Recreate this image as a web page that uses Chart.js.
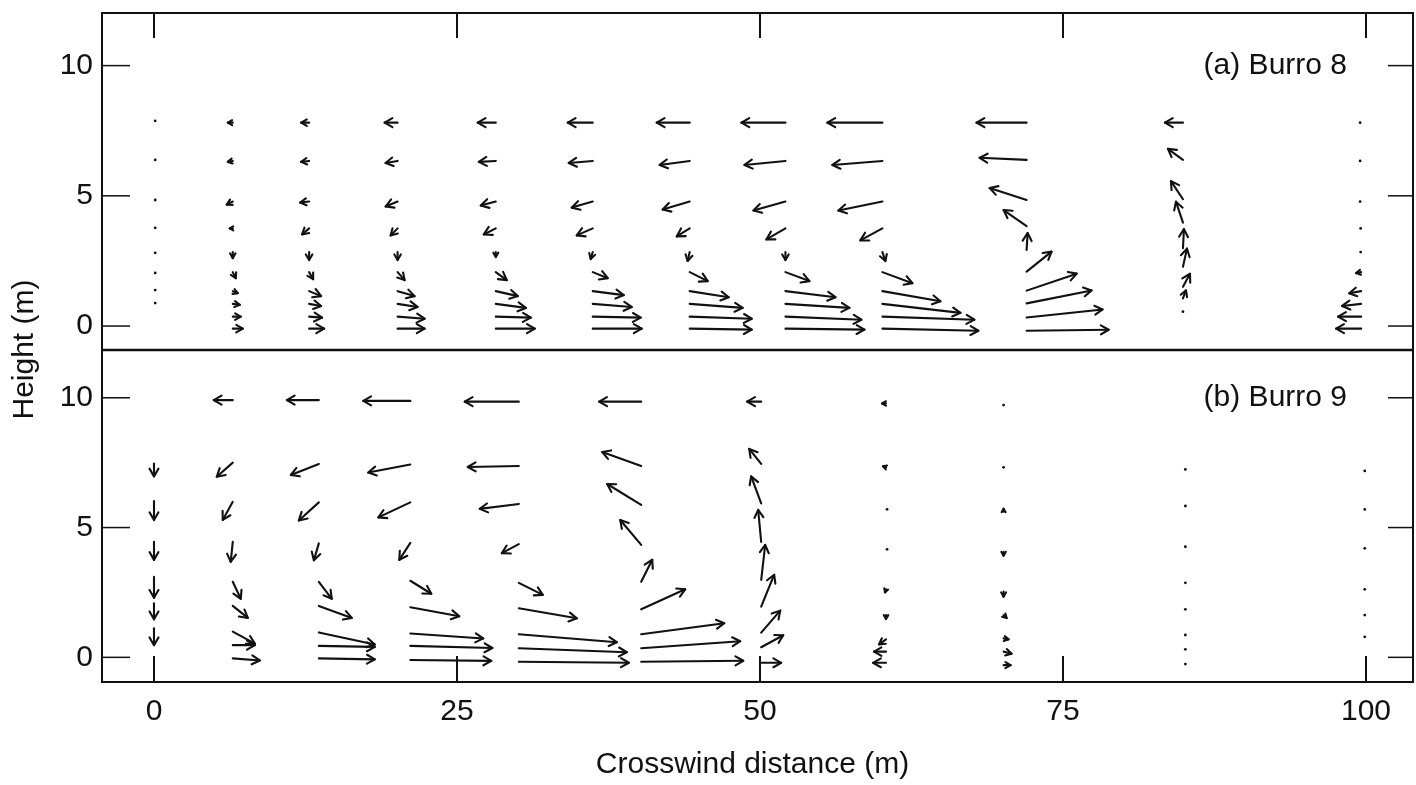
<!DOCTYPE html>
<html><head><meta charset="utf-8">
<script src="https://cdn.jsdelivr.net/npm/chart.js@4"></script>
<style>html,body{margin:0;padding:0;background:#fff}#wrap{width:1416px;height:785px;position:relative}</style>
</head><body><div id="wrap"><canvas id="c" width="1416" height="785"></canvas></div>
<script>
const X_TICKS = [0, 25, 50, 75, 100];
const Y_TICKS = [0, 5, 10];
const X_LABEL = 'Crosswind distance (m)';
const Y_LABEL = 'Height (m)';
const PANEL_A = '(a) Burro 8';
const PANEL_B = '(b) Burro 9';

// ---- (a) Burro 8 : station positions, heights, vector components (in x-axis metres) ----
const A_X = [0.1, 6.5, 12.8, 20.1, 28.2, 36.2, 44.2, 52.1, 60.1, 72.0, 84.9, 99.6];
const A_ROWS = [7.81, 6.34, 4.78, 3.75, 2.84, 2.07, 1.34, 0.85, 0.36, -0.10];
const A_Z = [
  [7.88, 6.38, 4.84, 3.77, 2.81, 2.04, 1.38, 0.88],
  A_ROWS, A_ROWS, A_ROWS, A_ROWS, A_ROWS, A_ROWS, A_ROWS, A_ROWS,
  [7.81, 6.38, 4.84, 3.84, 2.92, 2.09, 1.36, 0.87, 0.33, -0.18],
  [7.81, 6.38, 4.87, 3.97, 2.99, 2.28, 1.51, 1.06, 0.55],
  A_ROWS
];
const A_U = [
  [0, 0, 0, 0, 0, 0, 0, 0],
  [-0.41, -0.41, -0.50, -0.25, 0, 0.25, 0.41, 0.58, 0.66, 0.83],
  [-0.66, -0.66, -0.74, -0.58, 0, 0.33, 0.99, 0.99, 1.07, 1.24],
  [-1.07, -0.99, -0.99, -0.58, 0, 0.58, 1.40, 1.65, 2.23, 2.23],
  [-1.49, -1.40, -1.24, -0.99, 0, 0.91, 1.82, 2.48, 2.89, 3.22],
  [-2.06, -1.98, -1.73, -1.32, -0.17, 1.24, 2.56, 3.22, 3.96, 4.04],
  [-2.72, -2.48, -2.23, -1.07, -0.17, 1.49, 3.22, 4.37, 5.12, 5.12],
  [-3.63, -3.38, -2.64, -1.57, 0, 1.98, 4.13, 5.28, 6.27, 6.52],
  [-4.54, -4.13, -3.63, -1.82, 0.25, 2.48, 4.79, 6.44, 7.59, 7.92],
  [-4.13, -3.88, -3.05, -1.90, 0.08, 2.06, 4.13, 5.36, 6.27, 6.77],
  [-1.49, -1.24, -0.99, -0.58, 0.08, 0.33, 0.58, 0.25, 0],
  [-0.17, -0.17, -0.17, -0.08, -0.08, -0.41, -0.99, -1.57, -1.90, -2.06]
];
const A_W = [
  [0, 0, 0, 0, 0, 0, 0, 0],
  [0, -0.08, -0.25, 0, -0.50, -0.50, -0.17, -0.08, 0, 0],
  [0, -0.08, -0.08, -0.50, -0.66, -0.58, -0.41, -0.17, -0.08, 0],
  [0, -0.17, -0.41, -0.58, -0.66, -0.66, -0.41, -0.25, -0.17, 0],
  [0, -0.08, -0.33, -0.50, -0.41, -0.66, -0.41, -0.33, -0.08, 0],
  [0, -0.17, -0.50, -0.58, -0.58, -0.50, -0.33, -0.25, -0.08, 0],
  [0, -0.33, -0.66, -0.66, -0.74, -0.74, -0.50, -0.33, -0.17, -0.08],
  [0, -0.33, -0.74, -0.91, -0.66, -0.74, -0.50, -0.33, -0.25, -0.08],
  [0, -0.33, -0.74, -0.99, -0.74, -0.91, -0.83, -0.74, -0.25, -0.17],
  [0, 0.17, 0.99, 1.32, 1.40, 1.65, 1.40, 1.07, 0.66, 0.08],
  [0, 0.91, 1.49, 1.73, 1.57, 1.49, 1.07, 0.66, 0],
  [0, 0, 0, 0, 0, -0.08, -0.17, -0.17, 0, 0]
];

// ---- (b) Burro 9 ----
const B_X = [0, 6.5, 13.6, 21.15, 30.1, 40.2, 50.1, 60.4, 70.1, 85.1, 99.9];
const B_Z = [
  [7.47, 6.02, 4.45, 3.10, 2.08, 1.12],
  [9.91, 7.50, 5.99, 4.45, 2.91, 1.98, 0.99, 0.47, -0.04],
  [9.91, 7.45, 5.97, 4.39, 2.91, 1.98, 0.96, 0.44, -0.04],
  [9.88, 7.43, 5.97, 4.41, 2.95, 1.93, 0.92, 0.44, -0.10],
  [9.85, 7.37, 5.91, 4.36, 2.87, 1.89, 0.89, 0.35, -0.17],
  [9.85, 7.37, 5.87, 4.33, 2.91, 1.85, 0.89, 0.35, -0.17],
  [9.85, 7.45, 5.93, 4.45, 2.98, 1.95, 0.95, 0.39, -0.21],
  [9.78, 7.32, 5.74, 4.20, 2.62, 1.63, 0.69, 0.22, -0.21],
  [9.72, 7.32, 5.61, 4.07, 2.53, 1.63, 0.73, 0.22, -0.30],
  [7.24, 5.83, 4.26, 2.87, 1.85, 0.86, 0.31, -0.26],
  [7.18, 5.70, 4.20, 2.62, 1.63, 0.79]
];
const B_U = [
  [0, 0, 0, 0, 0, 0],
  [-1.57, -1.32, -0.83, -0.17, 0.66, 1.24, 1.82, 1.82, 2.23],
  [-2.64, -2.31, -1.65, -0.41, 1.07, 2.72, 4.62, 4.62, 4.62],
  [-3.88, -3.47, -2.64, -0.91, 1.73, 4.04, 6.02, 6.77, 6.68],
  [-4.46, -4.21, -3.22, -1.40, 1.98, 4.79, 8.09, 8.91, 9.08],
  [-3.47, -3.22, -2.81, -1.73, 0.91, 3.63, 6.85, 8.17, 8.42],
  [-1.16, -0.99, -0.83, -0.25, 0.33, 1.07, 1.57, 1.82, 1.65],
  [-0.33, -0.25, 0.17, 0.17, -0.08, 0, -0.58, -0.99, -1.07],
  [0, 0, 0, 0, 0, 0.25, 0.41, 0.66, 0.58],
  [0, 0, 0, 0, 0, 0, 0, 0],
  [0, 0, 0, 0, 0, 0]
];
const B_W = [
  [-1.07, -1.57, -1.49, -1.73, -1.32, -1.40],
  [0, -1.16, -1.49, -1.65, -1.40, -0.99, -0.99, 0, -0.17],
  [0, -0.91, -1.49, -1.40, -1.40, -0.99, -0.99, -0.08, -0.08],
  [0, -0.66, -1.24, -1.40, -1.07, -0.74, -0.41, -0.17, -0.08],
  [0, -0.08, -0.41, -0.74, -0.99, -0.83, -0.66, -0.33, -0.08],
  [0, 1.16, 1.73, 2.06, 1.82, 1.65, 0.91, 0.58, 0.08],
  [0, 1.24, 2.23, 2.64, 2.89, 2.64, 1.82, 0.99, 0],
  [0, 0.08, -0.17, -0.17, -0.25, -0.33, -0.41, 0, 0],
  [0, 0, 0.25, -0.33, -0.41, -0.25, -0.08, -0.17, 0],
  [0, 0, 0, 0, 0, 0, 0, 0],
  [0, 0, 0, 0, 0, 0]
];

function buildPoints(xs, zs, us, ws) {
  const pts = [];
  xs.forEach((x, c) => {
    zs[c].forEach((z, r) => pts.push({x: x, y: z, u: us[c][r], w: ws[c][r]}));
  });
  return pts;
}

const FONT = "'Liberation Sans', Arial, sans-serif";
const INK = '#111';

const arrowPlugin = {
  id: 'arrows',
  afterDatasetsDraw(chart) {
    const ctx = chart.ctx, xs = chart.scales.x;
    const k = xs.getPixelForValue(1) - xs.getPixelForValue(0);
    ctx.save();
    ctx.strokeStyle = INK; ctx.fillStyle = INK;
    ctx.lineWidth = 2.1; ctx.lineCap = 'round'; ctx.lineJoin = 'round';
    chart.data.datasets.forEach((ds, i) => {
      const meta = chart.getDatasetMeta(i);
      meta.data.forEach((el, j) => {
        const d = ds.data[j];
        const x0 = el.x, y0 = el.y;
        const dx = d.u * k, dy = -d.w * k;
        const L = Math.hypot(dx, dy);
        if (L < 3) {
          ctx.beginPath(); ctx.arc(x0 + dx / 2, y0 + dy / 2, 1.4, 0, Math.PI * 2); ctx.fill();
          return;
        }
        const x1 = x0 + dx, y1 = y0 + dy;
        ctx.beginPath(); ctx.moveTo(x0, y0); ctx.lineTo(x1, y1); ctx.stroke();
        const h = Math.min(9, 0.5 * L + 2.5), a = Math.atan2(dy, dx), sp = 0.52;
        ctx.beginPath();
        ctx.moveTo(x1 - h * Math.cos(a - sp), y1 - h * Math.sin(a - sp));
        ctx.lineTo(x1, y1);
        ctx.lineTo(x1 - h * Math.cos(a + sp), y1 - h * Math.sin(a + sp));
        ctx.stroke();
      });
    });
    ctx.restore();
  }
};

const framePlugin = {
  id: 'frame',
  afterDraw(chart) {
    const ctx = chart.ctx, ca = chart.chartArea;
    const xs = chart.scales.x, yA = chart.scales.yA, yB = chart.scales.yB;
    ctx.save();
    ctx.strokeStyle = INK; ctx.lineWidth = 2;
    ctx.strokeRect(ca.left, ca.top, ca.right - ca.left, ca.bottom - ca.top);
    const div = yA.bottom;
    ctx.lineWidth = 2.5;
    ctx.beginPath(); ctx.moveTo(ca.left, div); ctx.lineTo(ca.right, div); ctx.stroke();
    ctx.lineWidth = 1.5;
    [yA, yB].forEach(s => {
      Y_TICKS.forEach(v => {
        const y = s.getPixelForValue(v);
        ctx.beginPath(); ctx.moveTo(ca.left, y); ctx.lineTo(ca.left + 28, y); ctx.stroke();
        ctx.beginPath(); ctx.moveTo(ca.right, y); ctx.lineTo(ca.right - 25, y); ctx.stroke();
      });
    });
    ctx.lineWidth = 2;
    X_TICKS.forEach(v => {
      const x = xs.getPixelForValue(v);
      ctx.beginPath(); ctx.moveTo(x, yA.top); ctx.lineTo(x, yA.top + 25); ctx.stroke();
      ctx.beginPath(); ctx.moveTo(x, yB.bottom); ctx.lineTo(x, yB.bottom - 26); ctx.stroke();
    });
    ctx.fillStyle = INK;
    ctx.font = '30px ' + FONT;
    ctx.textAlign = 'right'; ctx.textBaseline = 'middle';
    ctx.fillText(PANEL_A, ca.right - 66, yA.getPixelForValue(10));
    ctx.fillText(PANEL_B, ca.right - 66, yB.getPixelForValue(10));
    ctx.textAlign = 'center';
    ctx.fillText(X_LABEL, (ca.left + ca.right) / 2 - 5, 765);
    ctx.translate(25, (ca.top + ca.bottom) / 2 + 2);
    ctx.rotate(-Math.PI / 2);
    ctx.fillText(Y_LABEL, 0, 0);
    ctx.restore();
  }
};

const tickFont = {family: FONT, size: 30};
const setTicks = vals => s => { s.ticks = vals.map(v => ({value: v})); };
const noPad = s => { s.paddingTop = 0; s.paddingBottom = 0; s.paddingLeft = 0; s.paddingRight = 0; };

new Chart(document.getElementById('c'), {
  type: 'scatter',
  data: {
    datasets: [
      {label: PANEL_A, data: buildPoints(A_X, A_Z, A_U, A_W), yAxisID: 'yA', pointRadius: 0, pointHoverRadius: 0},
      {label: PANEL_B, data: buildPoints(B_X, B_Z, B_U, B_W), yAxisID: 'yB', pointRadius: 0, pointHoverRadius: 0}
    ]
  },
  options: {
    responsive: false, animation: false, devicePixelRatio: 1,
    layout: {padding: {top: 13, right: 3, left: 0, bottom: 0}},
    plugins: {legend: {display: false}, tooltip: {enabled: false}},
    events: [],
    scales: {
      x: {
        type: 'linear', position: 'bottom', min: -4.29, max: 103.88,
        afterBuildTicks: setTicks(X_TICKS),
        afterFit: s => { noPad(s); s.height = 103; },
        grid: {display: false, drawTicks: false}, border: {display: false},
        ticks: {font: tickFont, color: INK, padding: 12, maxRotation: 0, autoSkip: false}
      },
      yB: {
        type: 'linear', position: 'left', stack: 'panels', stackWeight: 332,
        min: -0.95, max: 11.84,
        afterBuildTicks: setTicks(Y_TICKS),
        afterFit: s => { noPad(s); s.width = 102; },
        grid: {display: false, drawTicks: false}, border: {display: false},
        ticks: {font: tickFont, color: INK, padding: 9}
      },
      yA: {
        type: 'linear', position: 'left', stack: 'panels', stackWeight: 337,
        min: -0.92, max: 12.02,
        afterBuildTicks: setTicks(Y_TICKS),
        afterFit: s => { noPad(s); s.width = 102; },
        grid: {display: false, drawTicks: false}, border: {display: false},
        ticks: {font: tickFont, color: INK, padding: 9}
      }
    }
  },
  plugins: [arrowPlugin, framePlugin]
});
</script>
</body></html>
